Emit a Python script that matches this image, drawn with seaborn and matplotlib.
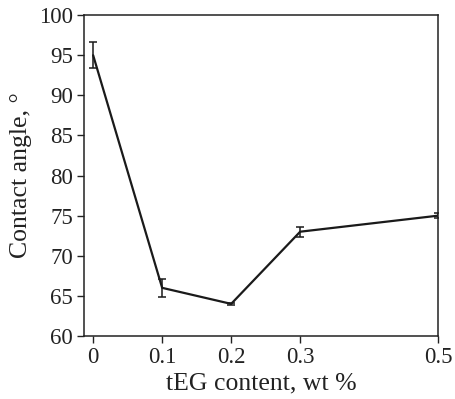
import numpy as np
import pandas as pd
import seaborn as sns
import matplotlib.pyplot as plt

teg_content = [0, 0.1, 0.2, 0.3, 0.5]
contact_angle = [95.0, 66.0, 64.0, 73.0, 75.0]
angle_err = [1.65, 1.1, 0.15, 0.6, 0.35]
x_ticks = [0, 0.1, 0.2, 0.3, 0.5]
x_tick_labels = ['0', '0.1', '0.2', '0.3', '0.5']
y_ticks = [60, 65, 70, 75, 80, 85, 90, 95, 100]

df = pd.DataFrame({'teg': teg_content, 'angle': contact_angle, 'err': angle_err})

sns.set_theme(style='ticks')
plt.rcParams['font.family'] = ['Liberation Serif', 'DejaVu Serif']

fig, ax = plt.subplots(figsize=(4.55, 3.99), dpi=100)
fig.subplots_adjust(left=0.185, right=0.963, top=0.962, bottom=0.158)

sns.lineplot(data=df, x='teg', y='angle', ax=ax, color='#1a1a1a', linewidth=1.6)
ax.errorbar(df['teg'], df['angle'], yerr=df['err'], fmt='none',
            ecolor='#1a1a1a', elinewidth=1.1, capsize=3, capthick=1.1)

ax.set_xlim(-0.013, 0.5)
ax.set_ylim(60, 100)
ax.set_xticks(x_ticks)
ax.set_xticklabels(x_tick_labels)
ax.set_yticks(y_ticks)
ax.tick_params(axis='both', direction='out', length=5, width=1, labelsize=16.5,
               colors='#222222', pad=3)
for side in ['top', 'right', 'left', 'bottom']:
    ax.spines[side].set_visible(True)
    ax.spines[side].set_color('#222222')
    ax.spines[side].set_linewidth(1.1)

ax.set_xlabel('tEG content, wt %', fontsize=18.5, color='#222222', labelpad=3)
ax.set_ylabel('Contact angle, °', fontsize=18.5, color='#222222', labelpad=5)

fig.savefig('out.png', dpi=100)
